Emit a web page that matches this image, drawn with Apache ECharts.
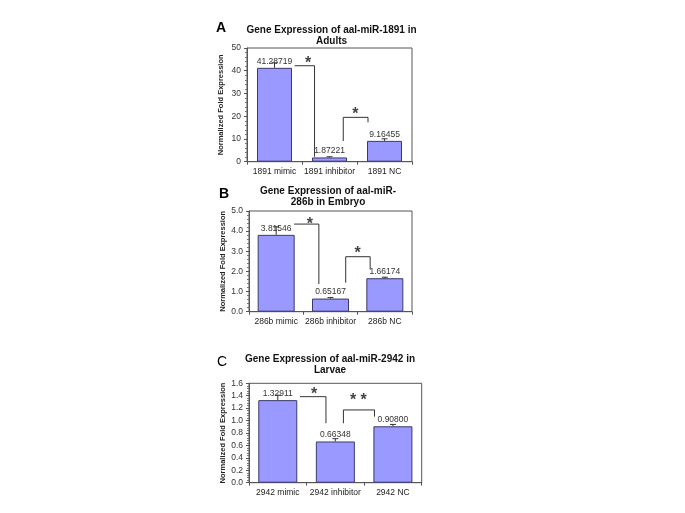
<!DOCTYPE html>
<html>
<head>
<meta charset="utf-8">
<script src="https://cdn.jsdelivr.net/npm/echarts@6/dist/echarts.min.js"></script>
<style>
html,body{margin:0;padding:0;background:#fff;}
#chart{width:685px;height:513px;}
</style>
</head>
<body>
<div id="chart"></div>
<script>
// ---- Data ----
var catsA = ['1891 mimic', '1891 inhibitor', '1891 NC'];
var valsA = [41.28719, 1.87221, 9.16455];
var errA = [2.2, 0.3, 0.9];
var catsB = ['286b mimic', '286b inhibitor', '286b NC'];
var valsB = [3.81546, 0.65167, 1.66174];
var errB = [0.4, 0.05, 0.05];
var catsC = ['2942 mimic', '2942 inhibitor', '2942 NC'];
var valsC = [1.32911, 0.66348, 0.90800];
var errC = [0.08, 0.045, 0.03];
var labelsA = ['41.28719', '1.87221', '9.16455'];
var labelsB = ['3.81546', '0.65167', '1.66174'];
var labelsC = ['1.32911', '0.66348', '0.90800'];
// significance brackets: polylines in (category position, value)
var bracketsA = [[[0.365, 42.2], [0.728, 42.2], [0.728, 2.2]], [[1.25, 9.1], [1.25, 19.5], [1.70, 19.5], [1.70, 17.3]]];
var bracketsB = [[[0.33, 4.35], [0.786, 4.35], [0.786, 1.37]], [[1.28, 1.44], [1.28, 2.73], [1.73, 2.73], [1.73, 2.1]]];
var bracketsC = [[[0.386, 1.385], [0.837, 1.385], [0.837, 0.957]], [[1.14, 0.957], [1.14, 1.171], [1.68, 1.171], [1.68, 1.063]]];
var starsA = [[0.61, 44.4, '*'], [1.47, 21.9, '*']];
var starsB = [[0.62, 4.47, '*'], [1.50, 3.01, '*']];
var starsC = [[0.63, 1.465, '*'], [1.40, 1.364, '* *']];
var titlesP = ['Gene Expression of aal-miR-1891 in\nAdults', 'Gene Expression of aal-miR-\n286b in Embryo', 'Gene Expression of aal-miR-2942 in\nLarvae'];
var panelLetters = ['A', 'B', 'C'];
var yName = 'Normalized Fold Expression';

// ---- Layout ----
var FONT = 'Liberation Sans, Arial, sans-serif';
var grids = [
  {left: 247, top: 48, width: 165, height: 113.7},
  {left: 249, top: 211, width: 163, height: 100.7},
  {left: 249, top: 383.3, width: 172.7, height: 99.4}
];
var yCfg = [
  {max: 50, interval: 10, fmt: function (v) { return String(v); }},
  {max: 5, interval: 1, fmt: function (v) { return v.toFixed(1); }},
  {max: 1.6, interval: 0.2, fmt: function (v) { return v.toFixed(1); }}
];
var barWidths = [35, 37, 39];
var cats = [catsA, catsB, catsC];
var vals = [valsA, valsB, valsC];
var errs = [errA, errB, errC];
var labs = [labelsA, labelsB, labelsC];
var brackets = [bracketsA, bracketsB, bracketsC];
var stars = [starsA, starsB, starsC];
var titlePos = [{x: 331.5, y: 25}, {x: 328, y: 185.5}, {x: 330, y: 353.5}];
var letterPos = [{x: 216, y: 21}, {x: 219, y: 187}, {x: 217, y: 355}];
var letterWeight = ['bold', 'bold', 'normal'];

var option = {
  backgroundColor: '#fff',
  animation: false,
  grid: grids.map(function (g) {
    return {left: g.left, top: g.top, width: g.width, height: g.height, show: true, borderColor: '#555', borderWidth: 1, backgroundColor: 'transparent'};
  }),
  title: [],
  xAxis: [],
  yAxis: [],
  series: []
};

for (var i = 0; i < 3; i++) {
  option.title.push({
    text: titlesP[i], left: titlePos[i].x, top: titlePos[i].y, textAlign: 'center', padding: 0,
    textStyle: {fontFamily: FONT, fontSize: 10, fontWeight: 'bold', color: '#111', lineHeight: 11}
  });
  option.title.push({
    text: panelLetters[i], left: letterPos[i].x, top: letterPos[i].y, padding: 0,
    textStyle: {fontFamily: FONT, fontSize: 14, fontWeight: letterWeight[i], color: '#000'}
  });
  option.xAxis.push({
    type: 'category', gridIndex: i, data: cats[i],
    axisLine: {onZero: false, lineStyle: {color: '#555'}},
    axisTick: {show: true, alignWithLabel: false, length: 3, lineStyle: {color: '#555'}},
    axisLabel: {fontFamily: FONT, fontSize: 8.5, color: '#222', margin: 5, interval: 0},
    splitLine: {show: false}
  });
  option.yAxis.push({
    type: 'value', gridIndex: i, min: 0, max: yCfg[i].max, interval: yCfg[i].interval,
    name: yName, nameLocation: 'middle', nameGap: 22,
    nameTextStyle: {fontFamily: FONT, fontSize: 7.5, fontWeight: 'bold', color: '#222'},
    axisLine: {show: true, onZero: false, lineStyle: {color: '#555'}},
    axisTick: {show: true, length: 3, lineStyle: {color: '#555'}},
    minorTick: {show: true, splitNumber: 5, length: 2, lineStyle: {color: '#777'}},
    axisLabel: {fontFamily: FONT, fontSize: 8.5, color: '#333', margin: 6, formatter: yCfg[i].fmt},
    splitLine: {show: false}
  });
}
// hidden value x-axes for annotation placement
for (var i = 0; i < 3; i++) {
  option.xAxis.push({type: 'value', gridIndex: i, min: -0.5, max: 2.5, show: false,
    axisLine: {onZero: false}, splitLine: {show: false}});
}

for (var i = 0; i < 3; i++) {
  (function (i) {
    option.series.push({
      type: 'bar', xAxisIndex: i, yAxisIndex: i, data: vals[i], barWidth: barWidths[i],
      itemStyle: {color: '#9999ff', borderColor: '#3a3a6a', borderWidth: 1},
      label: {show: true, position: 'top', distance: 2, fontFamily: FONT, fontSize: 8.5, color: '#333',
        formatter: function (p) { return labs[i][p.dataIndex]; }},
      z: 2
    });
    option.series.push({
      type: 'custom', xAxisIndex: i, yAxisIndex: i,
      data: vals[i].map(function (v, k) { return [k, v, v + errs[i][k]]; }),
      encode: {x: 0, y: [1, 2]},
      renderItem: function (params, api) {
        var p0 = api.coord([api.value(0), api.value(1)]);
        var p1 = api.coord([api.value(0), api.value(2)]);
        return {type: 'group', children: [
          {type: 'line', shape: {x1: p0[0], y1: p0[1], x2: p1[0], y2: p1[1]}, style: {stroke: '#333', lineWidth: 1}},
          {type: 'line', shape: {x1: p1[0] - 3, y1: p1[1], x2: p1[0] + 3, y2: p1[1]}, style: {stroke: '#333', lineWidth: 1}}
        ]};
      },
      z: 4
    });
    brackets[i].forEach(function (b) {
      option.series.push({
        type: 'line', xAxisIndex: 3 + i, yAxisIndex: i, data: b, symbol: 'none',
        lineStyle: {color: '#333', width: 1}, z: 5, silent: true
      });
    });
    option.series.push({
      type: 'scatter', xAxisIndex: 3 + i, yAxisIndex: i, symbolSize: 1,
      itemStyle: {color: 'transparent'},
      data: stars[i].map(function (s) { return [s[0], s[1], s[2]]; }),
      label: {show: true, position: 'inside', offset: [0, 3], fontFamily: FONT, fontSize: 16, fontWeight: 'bold', color: '#111',
        formatter: function (p) { return p.value[2]; }},
      z: 6
    });
  })(i);
}

var chart = echarts.init(document.getElementById('chart'), null, {renderer: 'canvas'});
chart.setOption(option);
</script>
</body>
</html>
